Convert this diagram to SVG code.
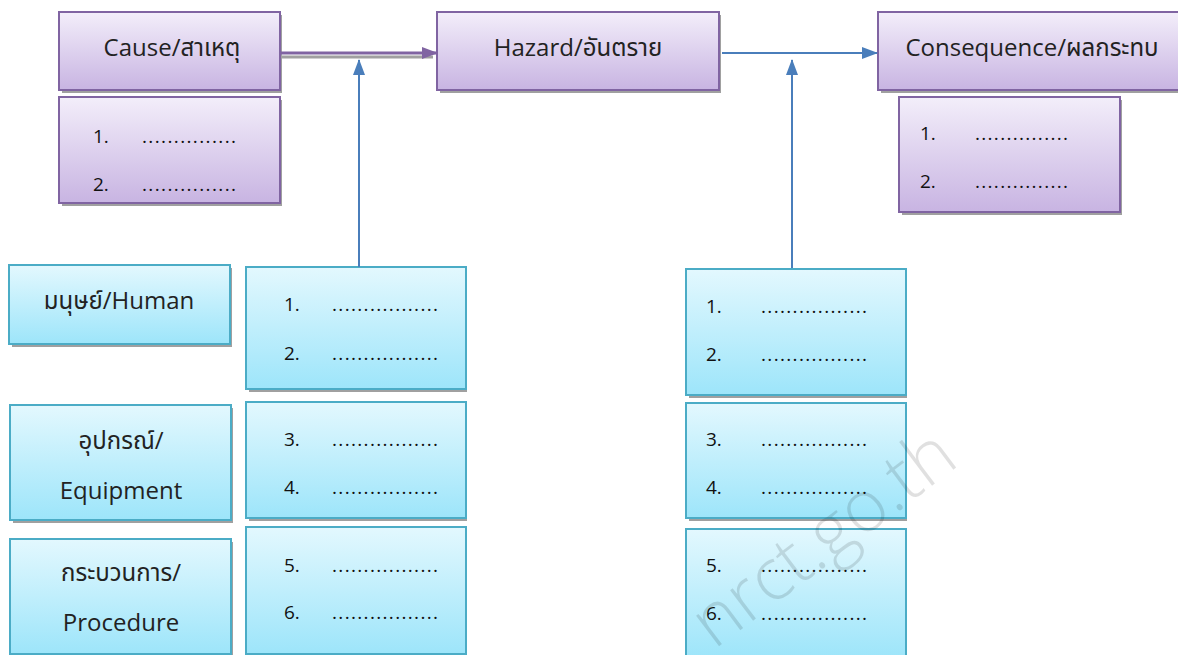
<svg xmlns="http://www.w3.org/2000/svg" width="1178" height="655" viewBox="0 0 1178 655">
<defs>
<linearGradient id="gp" x1="0" y1="0" x2="0" y2="1"><stop offset="0" stop-color="#F3EEFA"/><stop offset="1" stop-color="#C8B4E2"/></linearGradient>
<linearGradient id="gb" x1="0" y1="0" x2="0" y2="1"><stop offset="0" stop-color="#E3F8FE"/><stop offset="1" stop-color="#9DE5FA"/></linearGradient>
<marker id="ap" markerWidth="16" markerHeight="12" refX="15" refY="6" orient="auto" markerUnits="userSpaceOnUse"><path d="M0,0 L16,6 L0,12 Z" fill="#8064A2"/></marker>
<marker id="ab" markerWidth="16" markerHeight="12" refX="15" refY="6" orient="auto" markerUnits="userSpaceOnUse"><path d="M0,0 L16,6 L0,12 Z" fill="#4A7EBB"/></marker>
</defs>
<style>
.sh{fill:#A0A0A0}
.p{fill:url(#gp);stroke:#8064A2;stroke-width:2}
.b{fill:url(#gb);stroke:#4BACC6;stroke-width:2}
text{font-family:"Open Sans","Noto Sans","Noto Sans Thai",sans-serif;font-size:24px;fill:#222}
.c{text-anchor:middle}
.n{font-size:19px;fill:#111}
.wm{font-size:72px;fill:#000;fill-opacity:0.12;font-weight:300}
</style>
<rect width="1178" height="655" fill="#fff"/>

<g id="cause">
<rect class="sh" x="62" y="15" width="220" height="78"/>
<rect class="p" x="59" y="12" width="221" height="78"/>
<text class="c" x="172" y="56">Cause/สาเหตุ</text>
</g>
<g id="cause-list">
<rect class="sh" x="62" y="100" width="220" height="106"/>
<rect class="p" x="59" y="97" width="221" height="106"/>
<text class="n" x="93" y="143">1.</text><text class="n" x="142" y="143" textLength="94" lengthAdjust="spacing">...............</text>
<text class="n" x="93" y="191">2.</text><text class="n" x="142" y="191" textLength="94" lengthAdjust="spacing">...............</text>
</g>
<g id="hazard">
<rect class="sh" x="440" y="15" width="281" height="78"/>
<rect class="p" x="437" y="12" width="282" height="78"/>
<text class="c" x="578" y="56">Hazard/อันตราย</text>
</g>
<g id="consequence">
<rect class="sh" x="881" y="15" width="300" height="78"/>
<rect class="p" x="878" y="12" width="302" height="78"/>
<text class="c" x="1032" y="56">Consequence/ผลกระทบ</text>
</g>
<g id="consequence-list">
<rect class="sh" x="902" y="100" width="220" height="115"/>
<rect class="p" x="899" y="97" width="221" height="115"/>
<text class="n" x="920" y="140">1.</text><text class="n" x="975" y="140" textLength="93" lengthAdjust="spacing">...............</text>
<text class="n" x="920" y="188">2.</text><text class="n" x="975" y="188" textLength="93" lengthAdjust="spacing">...............</text>
</g>

<g id="human">
<rect class="sh" x="12" y="268" width="220" height="79"/>
<rect class="b" x="9" y="265" width="221" height="79"/>
<text class="c" x="119" y="309">มนุษย์/Human</text>
</g>
<g id="human-list">
<rect class="sh" x="249" y="270" width="218" height="122"/>
<rect class="b" x="246" y="267" width="220" height="122"/>
<text class="n" x="284" y="311">1.</text><text class="n" x="332" y="311" textLength="106" lengthAdjust="spacing">.................</text>
<text class="n" x="284" y="360">2.</text><text class="n" x="332" y="360" textLength="106" lengthAdjust="spacing">.................</text>
</g>
<g id="equipment">
<rect class="sh" x="13" y="408" width="220" height="115"/>
<rect class="b" x="10" y="405" width="221" height="115"/>
<text class="c" x="121" y="449">อุปกรณ์/</text>
<text class="c" x="121" y="499">Equipment</text>
</g>
<g id="equipment-list">
<rect class="sh" x="249" y="405" width="218" height="116"/>
<rect class="b" x="246" y="402" width="220" height="116"/>
<text class="n" x="284" y="446">3.</text><text class="n" x="332" y="446" textLength="106" lengthAdjust="spacing">.................</text>
<text class="n" x="284" y="494">4.</text><text class="n" x="332" y="494" textLength="106" lengthAdjust="spacing">.................</text>
</g>
<g id="procedure">
<rect class="sh" x="13" y="542" width="220" height="115"/>
<rect class="b" x="10" y="539" width="221" height="115"/>
<text class="c" x="121" y="581">กระบวนการ/</text>
<text class="c" x="121" y="631">Procedure</text>
</g>
<g id="procedure-list">
<rect class="sh" x="249" y="530" width="218" height="127"/>
<rect class="b" x="246" y="527" width="220" height="127"/>
<text class="n" x="284" y="572">5.</text><text class="n" x="332" y="572" textLength="106" lengthAdjust="spacing">.................</text>
<text class="n" x="284" y="619">6.</text><text class="n" x="332" y="619" textLength="106" lengthAdjust="spacing">.................</text>
</g>

<g id="consequence-list-1">
<rect class="sh" x="689" y="272" width="218" height="126"/>
<rect class="b" x="686" y="269" width="220" height="126"/>
<text class="n" x="706" y="313">1.</text><text class="n" x="761" y="313" textLength="106" lengthAdjust="spacing">.................</text>
<text class="n" x="706" y="361">2.</text><text class="n" x="761" y="361" textLength="106" lengthAdjust="spacing">.................</text>
</g>
<g id="consequence-list-2">
<rect class="sh" x="689" y="406" width="218" height="115"/>
<rect class="b" x="686" y="403" width="220" height="115"/>
<text class="n" x="706" y="446">3.</text><text class="n" x="761" y="446" textLength="106" lengthAdjust="spacing">.................</text>
<text class="n" x="706" y="494">4.</text><text class="n" x="761" y="494" textLength="106" lengthAdjust="spacing">.................</text>
</g>
<g id="consequence-list-3">
<rect class="b" x="686" y="529" width="220" height="130"/>
<text class="n" x="706" y="572">5.</text><text class="n" x="761" y="572" textLength="106" lengthAdjust="spacing">.................</text>
<text class="n" x="706" y="620">6.</text><text class="n" x="761" y="620" textLength="106" lengthAdjust="spacing">.................</text>
</g>

<g id="connectors" fill="none">
<line x1="281" y1="57" x2="433" y2="57" stroke="#A0A0A0" stroke-width="3"/>
<line x1="281" y1="53" x2="437" y2="53" stroke="#8064A2" stroke-width="3" marker-end="url(#ap)"/>
<line x1="722" y1="53" x2="877" y2="53" stroke="#4A7EBB" stroke-width="2" marker-end="url(#ab)"/>
<line x1="359" y1="267" x2="359" y2="60" stroke="#4A7EBB" stroke-width="2" marker-end="url(#ab)"/>
<line x1="792" y1="268" x2="792" y2="60" stroke="#4A7EBB" stroke-width="2" marker-end="url(#ab)"/>
</g>

<text class="wm" transform="translate(714,650) rotate(-37)">nrct.go.th</text>
</svg>
